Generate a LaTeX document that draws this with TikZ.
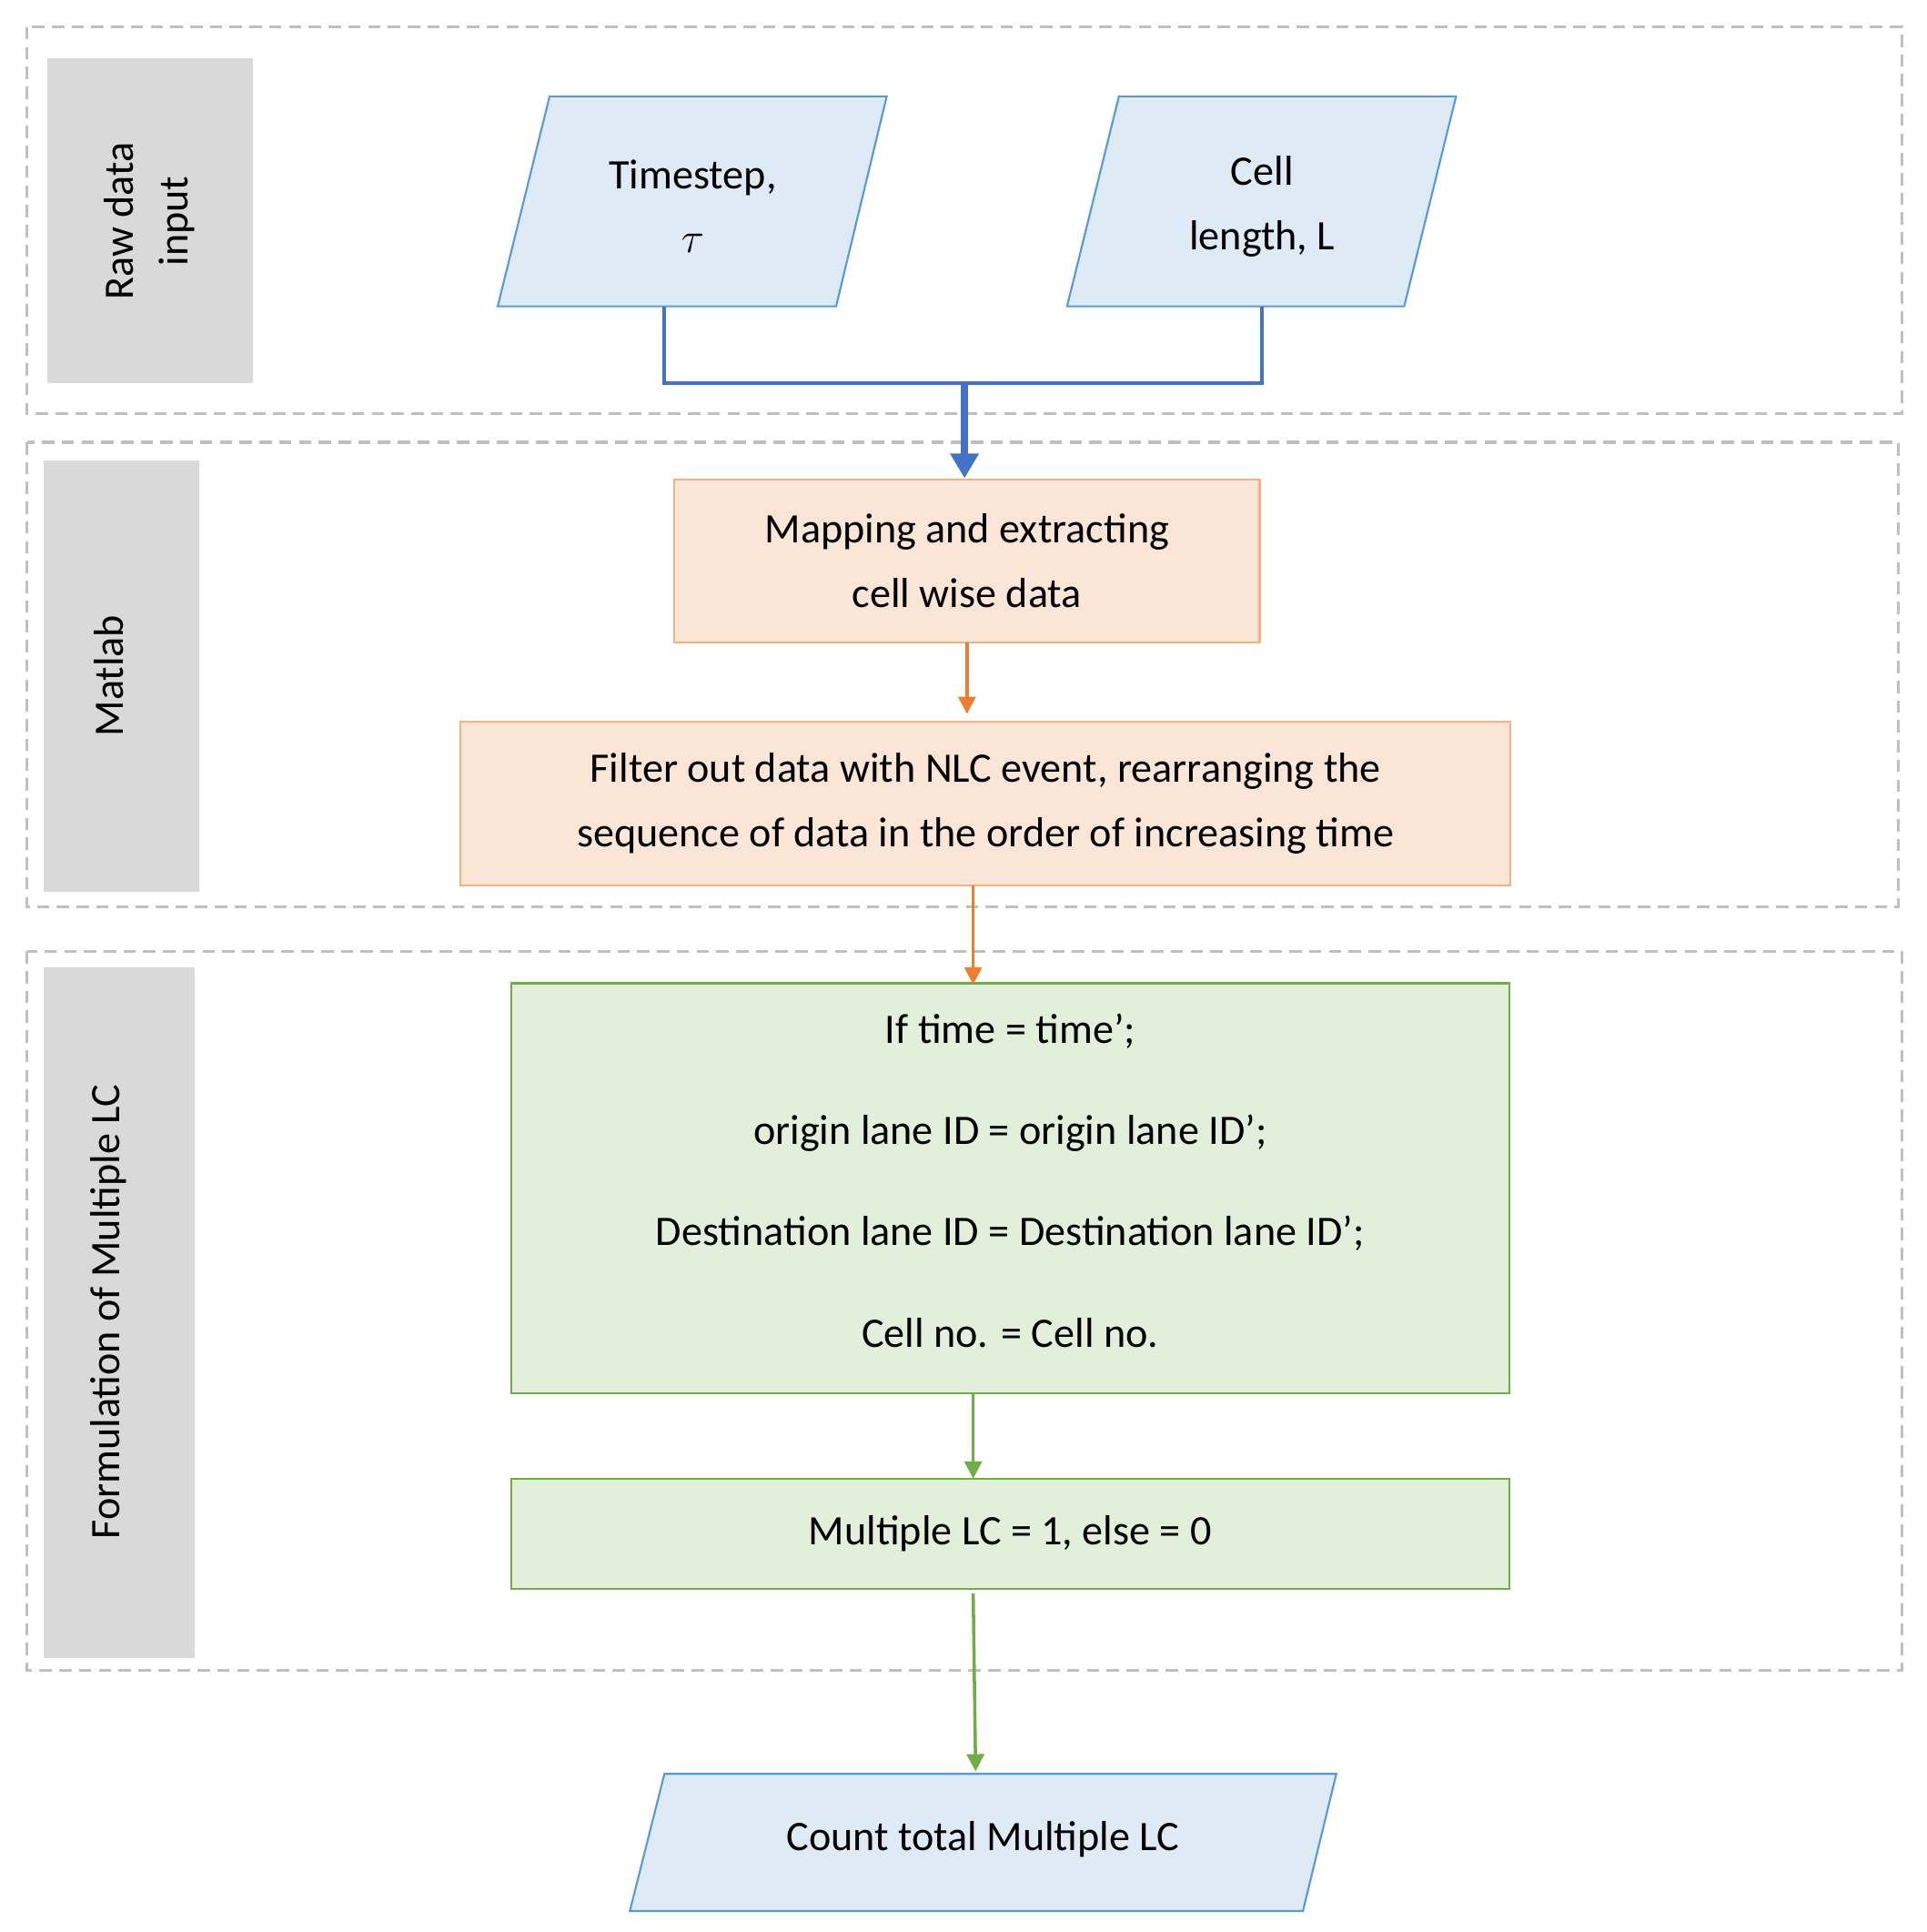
\documentclass[tikz,border=0pt]{standalone}
\usepackage{fontspec}
\setmainfont{Carlito}
\usetikzlibrary{arrows.meta}
\definecolor{bfill}{HTML}{DEEBF7}\definecolor{bline}{HTML}{5B9BD5}
\definecolor{ofill}{HTML}{FBE5D6}\definecolor{oline}{HTML}{F4B183}\definecolor{oarr}{HTML}{ED7D31}
\definecolor{gfill}{HTML}{E2EFDA}\definecolor{gline}{HTML}{70AD47}
\definecolor{lab}{HTML}{D9D9D9}\definecolor{dash}{HTML}{BFBFBF}\definecolor{conn}{HTML}{4472C4}
\begin{document}
\begin{tikzpicture}[x=0.5pt,y=-0.5pt,
  lane/.style={draw=dash,line width=1.2pt,dash pattern=on 5pt off 3pt},
  labbox/.style={fill=lab},
  labtxt/.style={rotate=90,align=center,font=\fontsize{17}{22}\selectfont},
  para/.style={fill=bfill,draw=bline,line width=0.8pt},
  txt/.style={align=center,font=\fontsize{17}{26}\selectfont},
  obox/.style={fill=ofill,draw=oline,line width=0.8pt},
  gbox/.style={fill=gfill,draw=gline,line width=0.8pt},
  tip/.style={-{Triangle[length=7pt,width=7pt]}}]
\useasboundingbox (0,0) rectangle (1560,1564);
\draw[lane] (22,22) rectangle (1540,335);
\draw[lane] (22,358) rectangle (1537,734);
\draw[lane] (22,770) rectangle (1540,1352);
\fill[labbox] (38,47) rectangle (205,310);
\node[labtxt] (l1) at (121,179) {Raw data\\input};
\fill[labbox] (35,373) rectangle (161,722);
\node[labtxt] (l2) at (88,547) {Matlab};
\fill[labbox] (35,783) rectangle (158,1342);
\node[labtxt] (l3) at (88,1062) {Formulation of Multiple LC};
\draw[para] (445,78)--(718,78)--(677,248)--(403,248)--cycle;
\node[txt] (ts) at (561,167) {Timestep,\\$\tau$};
\draw[para] (906,78)--(1179,78)--(1137,248)--(864,248)--cycle;
\node[txt] (cl) at (1022,167) {Cell\\length, L};
\coordinate (tsb) at (538,248);\coordinate (clb) at (1022,248);
\coordinate (j) at (781,310);
\draw[conn,line width=1.5pt] (tsb)--(538,310)--(1022,310)--(clb);
\node[obox,minimum width=237pt,minimum height=66pt,txt] (m1) at (783,454) {Mapping and extracting\\cell wise data};
\draw[conn,line width=3pt,-{Triangle[length=10pt,width=11pt]}] (j)--(j|-m1.north);
\node[obox,minimum width=425pt,minimum height=66.5pt,txt] (m2) at (798,650.5) {Filter out data with NLC event, rearranging the\\sequence of data in the order of increasing time};
\draw[oarr,line width=1.3pt,tip] (783,520)--(783,578);
\node[gbox,minimum width=404pt,minimum height=166pt] (g1) at (818,962) {};
\node[txt] at (818,835) {If time = time’;};
\node[txt] at (818,917) {origin lane ID = origin lane ID’;};
\node[txt] at (818,998) {Destination lane ID = Destination lane ID’;};
\node[txt] at (818,1079) {Cell no. = Cell no.};
\draw[oarr,line width=1.3pt,tip] (788,717)--(788,797);
\node[gbox,minimum width=404pt,minimum height=44.5pt,txt] (g2) at (818,1241.5) {Multiple LC = 1, else = 0};
\draw[gline,line width=1.3pt,tip] (788,1128)--(788,1197);
\draw[para] (538,1436)--(1082,1436)--(1055,1547)--(510,1547)--cycle;
\node[txt] (ct) at (796,1489) {Count total Multiple LC};
\draw[gline,line width=1.3pt,tip] (788,1290)--(790,1434);
\end{tikzpicture}
\end{document}
